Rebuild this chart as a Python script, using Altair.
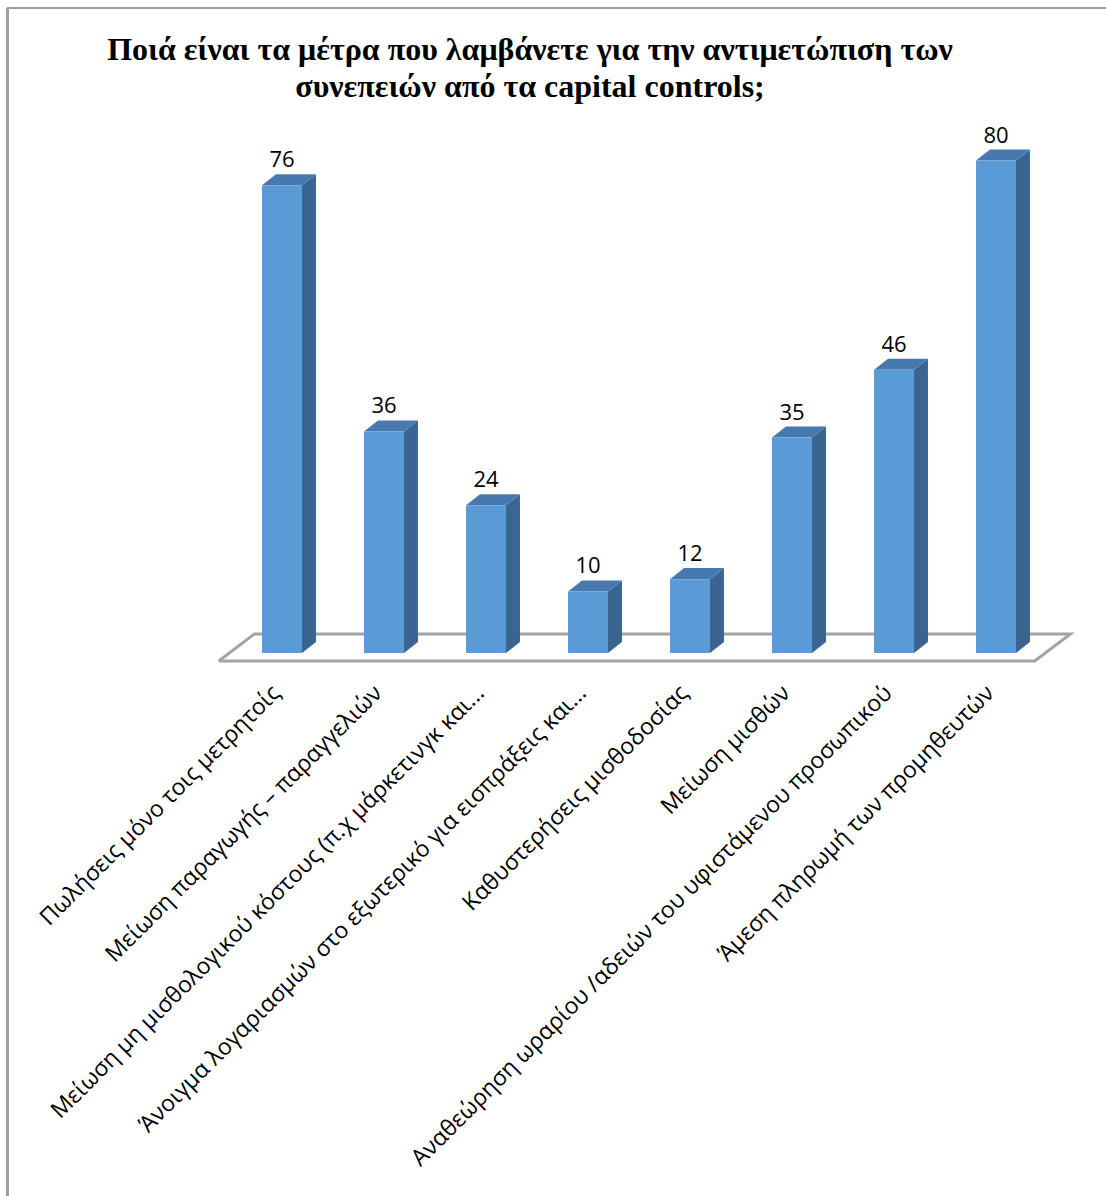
import altair as alt
import pandas as pd

categories = [
    "Πωλήσεις μόνο τοις μετρητοίς",
    "Μείωση  παραγωγής – παραγγελιών",
    "Μείωση μη μισθολογικού κόστους (π.χ μάρκετινγκ και...",
    "Άνοιγμα λογαριασμών στο εξωτερικό για εισπράξεις και...",
    "Καθυστερήσεις μισθοδοσίας",
    "Μείωση μισθών",
    "Αναθεώρηση ωραρίου /αδειών του υφιστάμενου προσωπικού",
    "Άμεση πληρωμή των προμηθευτών",
]
values = [76, 36, 24, 10, 12, 35, 46, 80]

title_lines = [
    "Ποιά είναι τα μέτρα που λαμβάνετε για την αντιμετώπιση των",
    "συνεπειών από τα capital controls;",
]

# geometry / style constants
PLOT_W, PLOT_H = 816, 554
Y_MAX = 90
HW = 0.196           # half width of bar front (band units)
DX = 0.137           # depth in x (band units)
DY = 1.79            # depth in y (data units)
FRONT_C = "#5B9BD5"
SIDE_C = "#3A6590"
TOP_C = "#4779B0"

n = len(categories)
centers = [i + 0.5 for i in range(n)]

front = pd.DataFrame({
    "cat": categories,
    "x": [c - HW for c in centers],
    "x2": [c + HW for c in centers],
    "y": [0] * n,
    "y2": values,
    "xc": centers,
    "v": values,
})

side_rows, top_rows = [], []
for c, v, cat in zip(centers, values, categories):
    side_rows.append({"cat": cat, "x": c + HW, "y": 0, "y2": v})
    side_rows.append({"cat": cat, "x": c + HW + DX, "y": DY, "y2": v + DY})
    top_rows.append({"cat": cat, "y": v, "x": c - HW, "x2": c + HW})
    top_rows.append({"cat": cat, "y": v + DY, "x": c - HW + DX, "x2": c + HW + DX})
side = pd.DataFrame(side_rows)
top = pd.DataFrame(top_rows)

# floor parallelogram
F_FRONT_Y, F_BACK_Y, F_SHIFT, F_MARGIN = -1.3, 3.1, 0.35, 0.12
floor = pd.DataFrame({
    "x": [-F_MARGIN, n - F_MARGIN, n - F_MARGIN + F_SHIFT, -F_MARGIN + F_SHIFT, -F_MARGIN],
    "y": [F_FRONT_Y, F_FRONT_Y, F_BACK_Y, F_BACK_Y, F_FRONT_Y],
    "o": [0, 1, 2, 3, 4],
})

label_expr = "[" + ",".join("'" + c + "'" for c in categories) + "][floor(datum.value)]"

xscale = alt.Scale(domain=[0, n], nice=False, zero=False)
yscale = alt.Scale(domain=[0, Y_MAX], nice=False)

x_axis = alt.Axis(
    values=centers, labelExpr=label_expr, labelAngle=-45, labelAlign="right",
    labelBaseline="middle", labelPadding=36, labelFontSize=23, labelFont="Open Sans",
    labelColor="black", domain=False, ticks=False, grid=False, title=None,
    labelLimit=1000, labelOverlap=False, labelFlush=False, labelOffset=-6,
)

floor_layer = alt.Chart(floor).mark_line(color="#A3A3A3", strokeWidth=3, clip=False).encode(
    x=alt.X("x:Q", scale=xscale, axis=x_axis),
    y=alt.Y("y:Q", scale=yscale, axis=None),
    order="o:Q",
)

side_layer = alt.Chart(side).mark_area(orient="vertical", color=SIDE_C).encode(
    x="x:Q", y="y:Q", y2="y2:Q", detail="cat:N",
)

top_layer = alt.Chart(top).mark_area(orient="horizontal", color=TOP_C).encode(
    y="y:Q", x="x:Q", x2="x2:Q", detail="cat:N",
)

front_layer = alt.Chart(front).mark_rect(color=FRONT_C).encode(
    x="x:Q", x2="x2:Q", y="y:Q", y2="y2:Q",
)

text_layer = alt.Chart(front).mark_text(
    font="Open Sans", fontSize=22, color="black", baseline="alphabetic", dy=-18,
).encode(x="xc:Q", y="v:Q", text="v:Q")

border_v = alt.Chart(front).mark_rule(color="#A0A0A0", strokeWidth=2).encode(
    x=alt.value(-223.5), y=alt.value(-91), y2=alt.value(1200)
)
border_h = alt.Chart(front).mark_rule(color="#A0A0A0", strokeWidth=2).encode(
    x=alt.value(-223.5), x2=alt.value(900), y=alt.value(-91)
)

chart = alt.layer(
    border_v, border_h, floor_layer, side_layer, top_layer, front_layer, text_layer
).properties(
    width=PLOT_W, height=PLOT_H,
    autosize=alt.AutoSizeParams(type="none"),
    padding={"left": 231, "top": 99, "right": 59, "bottom": 543},
    background="white",
    title=alt.TitleParams(
        text=title_lines, font="Liberation Serif", fontSize=32, fontWeight="bold",
        color="black", anchor="middle", dx=-109, offset=-97, lineHeight=37, frame="group",
    ),
).configure_view(stroke=None)

chart.save("out.html", embed_options={"renderer": "svg", "actions": False})
